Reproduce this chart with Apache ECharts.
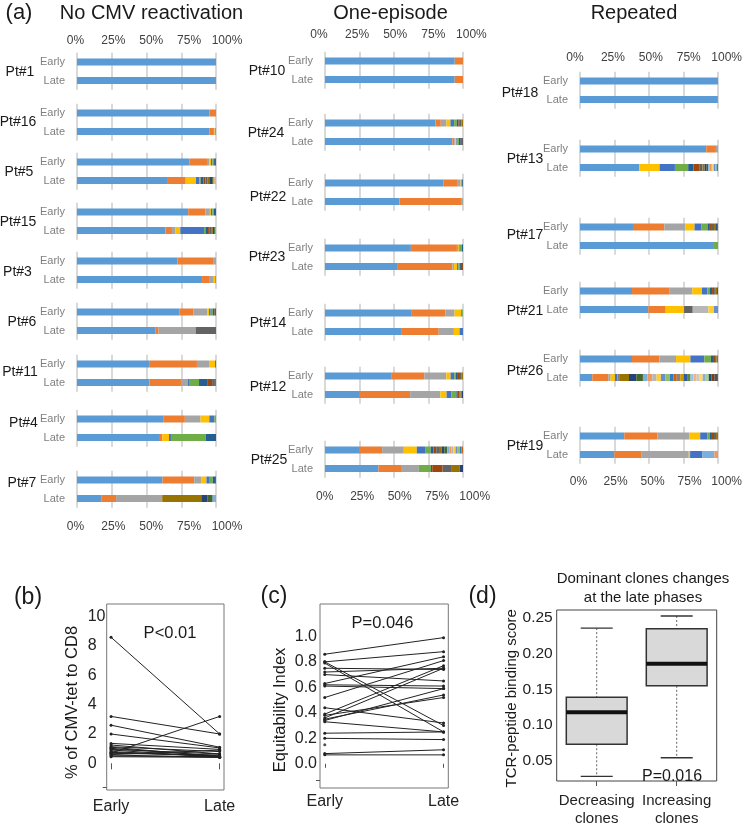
<!DOCTYPE html>
<html><head><meta charset="utf-8">
<script src="https://cdn.jsdelivr.net/npm/echarts@6/dist/echarts.min.js"></script>
<style>html,body{margin:0;padding:0;background:#fff}#c{width:745px;height:828px}</style>
</head><body><div id="c"></div>
<script>
// ===================== DATA =====================
const pctTicks = ['0%', '25%', '50%', '75%', '100%'];
const phases = ['Early', 'Late'];
const groupTitles = ['No CMV reactivation', 'One-episode', 'Repeated'];
const patientsNoCMV = ['Pt#1', 'Pt#16', 'Pt#5', 'Pt#15', 'Pt#3', 'Pt#6', 'Pt#11', 'Pt#4', 'Pt#7'];
const patientsOne = ['Pt#10', 'Pt#24', 'Pt#22', 'Pt#23', 'Pt#14', 'Pt#12', 'Pt#25'];
const patientsRep = ['Pt#18', 'Pt#13', 'Pt#17', 'Pt#21', 'Pt#26', 'Pt#19'];

// clone fractions (%) in clone order, Early / Late
const pt1Early = [100];
const pt1Late = [100];
const pt16Early = [95.4, 4.6];
const pt16Late = [95.2, 3.3, 0.5, 0.3, 0.3, 0.4];
const pt5Early = [80.8, 12.7, 1.7, 1.2, 1.0, 0.8, 1.0, 0.8];
const pt5Late = [65.4, 12.7, 0.3, 7.2, 2.4, 1.0, 2.0, 1.5, 1.2, 1.5, 2.0, 1.0, 0.6, 0.6, 0.6];
const pt15Early = [80, 12.5, 3.1, 0.7, 1.0, 1.2, 1.5];
const pt15Late = [63.7, 4.6, 2.6, 3.4, 17.1, 1.0, 1.9, 1.2, 1.0, 1.2, 1.0, 0.8, 0.5];
const pt3Early = [72.4, 26, 1.6];
const pt3Late = [90, 5, 3.4, 1.2, 0.4];
const pt6Early = [73.6, 10.3, 9.9, 1.2, 1.2, 1.5, 1.3, 1.0];
const pt6Late = [56.3, 2.4, 26.6, 0, 0, 0, 0, 0, 14.7];
const pt11Early = [51.9, 34.4, 8.7, 4.3, 0.7];
const pt11Late = [52.2, 22.6, 4.8, 0, 1.0, 7.2, 6.3, 3.1, 2.0, 0.8];
const pt4Early = [62, 15.6, 11.3, 6.3, 3.6, 1.2];
const pt4Late = [59, 2.4, 0, 4.8, 1.4, 25, 7.4];
const pt7Early = [61.5, 22.8, 5, 3.8, 2.4, 2.2, 2.2, 0.1];
const pt7Late = [17.8, 10.3, 33.2, 0, 0, 0, 0, 0, 0, 28.1, 4.6, 3.6, 2.4];

const pt10Early = [94, 6];
const pt10Late = [94, 6];
const pt24Early = [80, 3.9, 4.1, 2.9, 2.7, 1.9, 1.2, 1.0, 1.2, 1.1];
const pt24Late = [92.3, 1.5, 0.6, 0.8, 0.6, 1.2, 1.4, 0.8, 0.8];
const pt22Early = [86, 9.7, 2.5, 0.3, 0.3, 0.6, 0.6];
const pt22Late = [54, 44.6, 1.4];
const pt23Early = [62.2, 33.4, 0.8, 0.6, 0.6, 1.4, 1.0];
const pt23Late = [52.8, 39.5, 1.2, 2.2, 1.0, 1.0, 0.8, 1.5];
const pt14Early = [62.4, 25, 6.5, 4.8, 0.8, 0.5];
const pt14Late = [55.7, 26.7, 11, 4.1, 2.5];
const pt12Early = [48.4, 23.6, 15.9, 3.1, 2.6, 1.2, 1.5, 1.5, 1.2, 1.0];
const pt12Late = [25.3, 36.4, 21.9, 4.5, 3.5, 3.6, 1.0, 1.2, 0.8, 0.8, 1.0];
const pt25Early = [25.3, 16.1, 15.7, 9.4, 6.0, 4.1, 2, 2, 2, 2, 2, 2, 1.5, 1.5, 1.5, 1.5, 1.5, 1.5, 1.3, 1.1];
const pt25Late = [38.8, 16.9, 12.3, 0, 0, 8.7, 1.0, 7.5, 6.7, 5.8, 2.3];

const pt18Early = [100];
const pt18Late = [99.3, 0.7];
const pt13Early = [91.5, 7, 1.5];
const pt13Late = [43, 0, 0, 14.7, 11.1, 9.6, 3.9, 4.1, 2.4, 1.5, 1.5, 1.2, 1.0, 1.0, 1.0, 1.0, 1.0, 1.0, 1.0];
const pt17Early = [38.4, 22.7, 15.4, 6.5, 4.8, 4.6, 1.7, 1.5, 1.5, 1.5, 0.8, 0.6];
const pt17Late = [96.4, 0, 0, 0, 0, 3.6];
const pt21Early = [37.7, 27.3, 16.4, 7, 3.9, 1.9, 1.5, 1.5, 1.2, 1.0, 0.6];
const pt21Late = [49.5, 12.6, 0, 13.3, 0, 0, 0, 0, 6.3, 0, 0, 0, 0, 0, 11.4, 3.9, 3.0];
const pt26Early = [37.7, 19.8, 12.1, 10.4, 10.1, 4.8, 1.5, 1.5, 1.0, 1.1];
const pt26Late = [8.9, 11.6, 1.7, 3.1, 1.7, 0.5, 0.5, 0.5, 0.5, 6.5, 5.3, 4.8, 3.4, 3.4, 3.1, 3.1, 3.4, 3.1, 2.5, 2.5, 2.5, 2.5, 2.5, 2.5, 2.2, 2.2, 2.2, 2.2, 2.2, 2.2, 2.0, 2.0, 2.0, 0.7];
const pt19Early = [32.1, 23.9, 23.4, 7.7, 5.1, 1.9, 1.5, 1.5, 1.5, 1.4];
const pt19Late = [24.9, 19.8, 34.1, 1.0, 8.7, 0, 0, 0, 0, 0, 0, 0, 8.9, 2.6];

// (b) % of CMV-tet to CD8, paired
const tetEarly = [8.6, 3.2, 2.6, 2.0, 0.7, 1.36, 1.25, 1.13, 1.02, 0.95, 0.91, 0.80, 0.68, 0.57, 0.50, 0.45, 1.10, 0.75, 0.60];
const tetLate  = [2.0, 2.0, 1.1, 1.05, 3.2, 0.95, 0.64, 0.80, 0.50, 0.64, 0.41, 0.45, 0.57, 0.41, 0.45, 0.41, 0.45, 0.50, 0.90];
const tetTicks = [0, 2, 4, 6, 8, 10];

// (c) Equitability index, paired
const eqEarly = [0.86, 0.80, 0.80, 0.79, 0.75, 0.72, 0.70, 0.63, 0.62, 0.61, 0.52, 0.44, 0.39, 0.38, 0.36, 0.35, 0.34, 0.33, 0.24, 0.20, 0.08, 0.07];
const eqLate  = [0.99, 0.88, 0.30, 0.25, 0.74, 0.75, 0.65, 0.84, 0.61, 0.59, 0.81, 0.32, 0.77, 0.52, 0.75, 0.54, 0.59, 0.25, 0.25, 0.19, 0.11, 0.07];
const eqEarlyOnly = [0.15];
const eqTicks = [0.0, 0.2, 0.4, 0.6, 0.8, 1.0];

// (d) TCR-peptide binding score boxplots: [low whisker, Q1, median, Q3, high whisker]
const boxCategories = ['Decreasing\nclones', 'Increasing\nclones'];
const boxDecreasing = [0.028, 0.073, 0.118, 0.139, 0.236];
const boxIncreasing = [0.054, 0.155, 0.186, 0.235, 0.253];
const scoreTicks = [0.05, 0.10, 0.15, 0.20, 0.25];

const pValues = ['P<0.01', 'P=0.046', 'P=0.016'];

// ===================== STYLE / LAYOUT =====================
const palette = ['#5B9BD5','#ED7D31','#A5A5A5','#FFC000','#4472C4','#70AD47',
  '#255E91','#9E480E','#636363','#997300','#264478','#43682B',
  '#7CAFDD','#F1975A','#B7B7B7','#FFCD33','#698ED0','#8CC168',
  '#327DC2','#D26012','#848484','#CC9A00','#335AA1','#5A8A39',
  '#9DC3E6','#F4B183','#C9C9C9','#FFD966','#8FAADC','#A9D18E',
  '#1F4E79','#843C0C','#525252','#7F6000','#203864','#385723'];
const FONT = '"Liberation Sans", Arial, Helvetica, sans-serif';

const cloneData = {
  'Pt#1':[pt1Early,pt1Late],'Pt#16':[pt16Early,pt16Late],'Pt#5':[pt5Early,pt5Late],'Pt#15':[pt15Early,pt15Late],
  'Pt#3':[pt3Early,pt3Late],'Pt#6':[pt6Early,pt6Late],'Pt#11':[pt11Early,pt11Late],'Pt#4':[pt4Early,pt4Late],'Pt#7':[pt7Early,pt7Late],
  'Pt#10':[pt10Early,pt10Late],'Pt#24':[pt24Early,pt24Late],'Pt#22':[pt22Early,pt22Late],'Pt#23':[pt23Early,pt23Late],
  'Pt#14':[pt14Early,pt14Late],'Pt#12':[pt12Early,pt12Late],'Pt#25':[pt25Early,pt25Late],
  'Pt#18':[pt18Early,pt18Late],'Pt#13':[pt13Early,pt13Late],'Pt#17':[pt17Early,pt17Late],'Pt#21':[pt21Early,pt21Late],
  'Pt#26':[pt26Early,pt26Late],'Pt#19':[pt19Early,pt19Late]
};

const columnLayout = [
  {names: patientsNoCMV, title:{x:151.5,y:13}, x0:77, w:139, early:[62,113,162,212,261,312,364,419,480],
   labX:[20,18,19,18,17.5,22,20,23.5,22], labY:[72,122,172,222,272,322,372,423,483],
   tickTop:{y:41,l:75.5,r:227}, tickBot:{y:527,l:75.5,r:227}},
  {names: patientsOne, title:{x:390.5,y:13}, x0:325, w:138, early:[61,123,183,248,313,376,450],
   labX:[267,266,268,267,268,268,269], labY:[71,133,197,257,323,387,460],
   tickTop:{y:35,l:319,r:471.4}, tickBot:{y:497,l:324.7,r:474.7}},
  {names: patientsRep, title:{x:634,y:13}, x0:580, w:138, early:[81,149,227,291,359,436],
   labX:[520,525,525,525,525,525], labY:[93,159,235,311,371,446],
   tickTop:{y:58,l:575,r:728}, tickBot:{y:482,l:578.5,r:729.5}}
];
const GAP = 18.5;

const grids = [], xAxes = [], yAxes = [], series = [], graphics = [];

function addText(text, x, y, size, opts) {
  opts = opts || {};
  graphics.push({type:'text', x:x, y:y, rotation: opts.rotation || 0, silent:true, z:100,
    style:{text:text, fill: opts.color || '#1a1a1a', font: size + 'px ' + FONT,
      align: opts.align || 'center', verticalAlign:'middle',
      textAlign: opts.align || 'center', textVerticalAlign:'middle'}});
}

function addTickRow(t) {
  const gi = grids.length;
  grids.push({left:t.l, top:t.y - 7, width:t.r - t.l, height:1});
  xAxes.push({gridIndex:gi, type:'category', data:pctTicks, boundaryGap:false,
    axisLine:{show:false}, axisTick:{show:false}, splitLine:{show:false},
    axisLabel:{interval:0, margin:0, fontSize:12, color:'#404040', fontFamily:FONT}});
  yAxes.push({gridIndex:gi, type:'value', min:0, max:1, show:false});
}

// ---------- panel (a) ----------
addText('(a)', 19, 13, 22);
columnLayout.forEach(function (col, ci) {
  addText(groupTitles[ci], col.title.x, col.title.y, 20);
  addTickRow(col.tickTop);
  addTickRow(col.tickBot);
  col.names.forEach(function (name, pi) {
    const gi = grids.length;
    grids.push({left:col.x0, top:col.early[pi] - GAP / 2, width:col.w, height:GAP * 2});
    xAxes.push({gridIndex:gi, type:'value', min:0, max:100, interval:25,
      axisLabel:{show:false}, axisLine:{show:false}, axisTick:{show:false},
      splitLine:{show:true, lineStyle:{color:'#d9d9d9', width:2}}});
    yAxes.push({gridIndex:gi, type:'category', data:phases, inverse:true,
      axisLine:{show:false}, axisTick:{show:false}, splitLine:{show:false},
      axisLabel:{color:'#7f7f7f', fontSize:11, margin:12, fontFamily:FONT}});
    const e = cloneData[name][0], l = cloneData[name][1];
    const n = Math.max(e.length, l.length);
    for (let k = 0; k < n; k++) {
      series.push({type:'bar', xAxisIndex:gi, yAxisIndex:gi, stack:'s' + gi, barWidth:7, silent:true,
        data:[e[k] || 0, l[k] || 0], itemStyle:{color: palette[k % palette.length]}});
    }
    addText(name, col.labX[pi], col.labY[pi], 14);
  });
});

// ---------- panel (b) ----------
const gb = grids.length;
grids.push({left:106.7, top:604, width:117.3, height:186, show:true, borderColor:'#777', borderWidth:1});
xAxes.push({gridIndex:gb, type:'value', min:0.96, max:2.04, axisLine:{show:false}, splitLine:{show:false},
  axisTick:{show:true, customValues:[1, 2], length:6, lineStyle:{color:'#555'}},
  axisLabel:{customValues:[1, 2], formatter: function (v) { return phases[Math.round(v) - 1]; }, fontSize:16, color:'#222', margin:9, fontFamily:FONT}});
yAxes.push({gridIndex:gb, type:'value', min:-1.82, max:10.87, axisLine:{show:false}, splitLine:{show:false},
  axisTick:{show:true, customValues:[-1.62], length:4, lineStyle:{color:'#555'}},
  axisLabel:{customValues:tetTicks, align:'left', margin:19, fontSize:16, color:'#222', fontFamily:FONT}});
tetEarly.forEach(function (v, i) {
  series.push({type:'line', xAxisIndex:gb, yAxisIndex:gb, silent:true, symbol:'circle', symbolSize:3,
    data:[[1, v], [2, tetLate[i]]], lineStyle:{color:'#222', width:1}, itemStyle:{color:'#222'}});
});
addText('(b)', 28, 598, 23);
addText(pValues[0], 170, 633, 16.5);
addText('% of CMV-tet to CD8', 72, 702.5, 16.5, {rotation: Math.PI / 2});

// ---------- panel (c) ----------
const gc = grids.length;
grids.push({left:320, top:604, width:128.3, height:184, show:true, borderColor:'#777', borderWidth:1});
xAxes.push({gridIndex:gc, type:'value', min:0.96, max:2.04, axisLine:{show:false}, splitLine:{show:false},
  axisTick:{show:true, customValues:[1, 2], length:4, lineStyle:{color:'#555'}},
  axisLabel:{customValues:[1, 2], formatter: function (v) { return phases[Math.round(v) - 1]; }, fontSize:16, color:'#222', margin:6, fontFamily:FONT}});
yAxes.push({gridIndex:gc, type:'value', min:-0.19, max:1.254, axisLine:{show:false}, splitLine:{show:false},
  axisTick:{show:true, customValues:[-0.13], length:4, lineStyle:{color:'#555'}},
  axisLabel:{customValues:eqTicks, formatter: function (v) { return v.toFixed(1); }, margin:3, fontSize:16, color:'#222', fontFamily:FONT}});
eqEarly.forEach(function (v, i) {
  series.push({type:'line', xAxisIndex:gc, yAxisIndex:gc, silent:true, symbol:'circle', symbolSize:3,
    data:[[1, v], [2, eqLate[i]]], lineStyle:{color:'#222', width:1}, itemStyle:{color:'#222'}});
});
series.push({type:'scatter', xAxisIndex:gc, yAxisIndex:gc, silent:true, symbolSize:3,
  data: eqEarlyOnly.map(function (v) { return [1, v]; }), itemStyle:{color:'#222'}});
addText('(c)', 274, 597, 23);
addText(pValues[1], 382.5, 623, 16.5);
addText('Equitability Index', 280, 710, 16.5, {rotation: Math.PI / 2});

// ---------- panel (d) ----------
const gd = grids.length;
grids.push({left:556.7, top:610, width:160, height:175, show:true, borderColor:'#444', borderWidth:1});
xAxes.push({gridIndex:gd, type:'category', data:boxCategories, axisLine:{show:false}, splitLine:{show:false},
  axisTick:{show:true, alignWithLabel:true, interval:0, length:5, lineStyle:{color:'#555'}},
  axisLabel:{interval:0, hideOverlap:false, fontSize:15, lineHeight:18, color:'#222', margin:11, fontFamily:FONT}});
yAxes.push({gridIndex:gd, type:'value', min:0.0214, max:0.2614, axisLine:{show:false}, splitLine:{show:false},
  axisTick:{show:false},
  axisLabel:{customValues:scoreTicks, formatter: function (v) { return v.toFixed(2); }, margin:4, fontSize:15.5, color:'#222', fontFamily:FONT}});
series.push({type:'custom', xAxisIndex:gd, yAxisIndex:gd, silent:true,
  data:[[0].concat(boxDecreasing), [1].concat(boxIncreasing)],
  encode:{x:0, y:[1, 2, 3, 4, 5]},
  renderItem: function (params, api) {
    const x = api.value(0);
    const lo = api.coord([x, api.value(1)]);
    const q1 = api.coord([x, api.value(2)]);
    const md = api.coord([x, api.value(3)]);
    const q3 = api.coord([x, api.value(4)]);
    const hi = api.coord([x, api.value(5)]);
    const band = api.size([1, 0])[0];
    const hw = band * 0.38, cw = band * 0.2, cx = md[0];
    const dash = {stroke:'#666', lineWidth:1, lineDash:[2, 2]};
    const cap = {stroke:'#333', lineWidth:1.3};
    return {type:'group', children:[
      {type:'line', shape:{x1:cx, y1:hi[1], x2:cx, y2:q3[1]}, style:dash},
      {type:'line', shape:{x1:cx, y1:q1[1], x2:cx, y2:lo[1]}, style:dash},
      {type:'line', shape:{x1:cx - cw, y1:hi[1], x2:cx + cw, y2:hi[1]}, style:cap},
      {type:'line', shape:{x1:cx - cw, y1:lo[1], x2:cx + cw, y2:lo[1]}, style:cap},
      {type:'rect', shape:{x:cx - hw, y:q3[1], width:2 * hw, height:q1[1] - q3[1]}, style:{fill:'#d9d9d9', stroke:'#333', lineWidth:1.5}},
      {type:'line', shape:{x1:cx - hw, y1:md[1], x2:cx + hw, y2:md[1]}, style:{stroke:'#111', lineWidth:4}}
    ]};
  }});
addText('(d)', 482.5, 597, 23);
addText('Dominant clones changes', 643, 579, 15);
addText('at the late phases', 643, 598, 15);
addText(pValues[2], 672, 777, 16);
addText('TCR-peptide binding score', 512, 698.3, 15, {rotation: Math.PI / 2});

const chart = echarts.init(document.getElementById('c'), null, {renderer:'canvas', width:745, height:828});
chart.setOption({
  animation:false,
  backgroundColor:'#ffffff',
  textStyle:{fontFamily:FONT},
  grid:grids, xAxis:xAxes, yAxis:yAxes, series:series, graphic:graphics
});
</script></body></html>
